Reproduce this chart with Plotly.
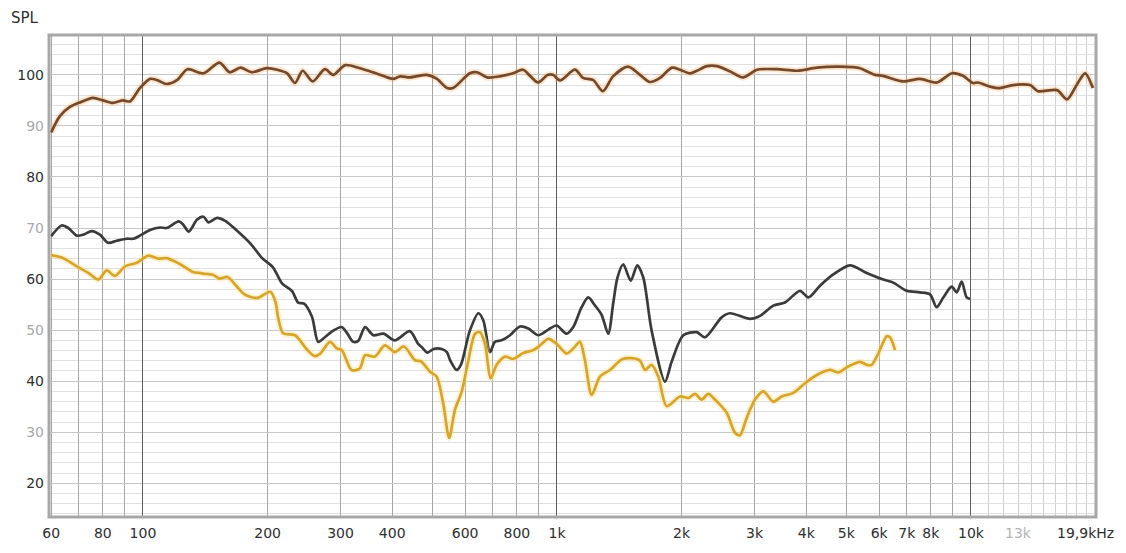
import plotly.graph_objects as go

# Frequency response measurements: frequency in Hz, SPL in dB
brown_freq = [60, 63, 66.6, 70.4, 75.7, 80, 84.6, 89.5, 93, 98.3, 104, 108, 114, 121, 128, 140,
              153, 162, 172, 183, 199, 211, 223, 233, 243, 257, 275, 288, 308, 334, 359, 389,
              402, 418, 442, 485, 513, 543, 561, 616, 641, 678, 728, 783, 828, 861, 900, 951,
              978, 1017, 1105, 1156, 1222, 1291, 1366, 1484, 1587, 1677, 1774, 1896, 1982, 2096,
              2179, 2303, 2435, 2617, 2814, 3042, 3400, 3798, 4246, 4746, 5188, 5394, 5864, 6131,
              6852, 7530, 8278, 8998, 9565, 10110, 10397, 11120, 11750, 12630, 13880, 14510,
              16140, 17060, 18030, 18860, 19710]
brown_spl = [88.7, 91.9, 93.7, 94.6, 95.5, 95.0, 94.5, 95.0, 94.8, 97.4, 99.2, 99.0, 98.2, 99.0, 101.1, 100.3,
             102.4, 100.5, 101.4, 100.5, 101.3, 101.0, 100.3, 98.4, 100.8, 98.7, 101.1, 100.0, 101.9, 101.3, 100.5, 99.5,
             99.2, 99.7, 99.5, 100.0, 99.2, 97.4, 97.4, 100.3, 100.5, 99.5, 99.7, 100.3, 101.0, 99.8, 98.5, 100.0,
             100.0, 98.9, 101.0, 99.4, 99.0, 96.8, 99.7, 101.6, 100.0, 98.6, 99.4, 101.4, 101.0, 100.3,
             100.8, 101.7, 101.7, 100.7, 99.5, 101.0, 101.1, 100.8, 101.4, 101.6, 101.5, 101.3, 100.0, 99.8,
             98.7, 99.2, 98.5, 100.3, 99.8, 98.4, 98.5, 97.7, 97.4, 98.0, 98.0, 96.8,
             97.0, 95.2, 98.1, 100.3, 97.4]

gray_freq = [60, 63.6, 66, 69.2, 71.8, 75.2, 78.7, 82.4, 86.4, 91.3, 94.8, 98.3, 104, 110, 114, 122,
             125, 129, 135, 140, 144, 151, 158, 168, 182, 194, 206, 217, 229, 237, 245, 256,
             265, 275, 288, 302, 310, 322, 331, 344, 360, 381, 406, 441, 462, 471, 487, 503,
             527, 542, 552, 572, 586, 616, 646, 664, 689, 708, 735, 770, 814, 853, 901, 953,
             998, 1055, 1095, 1147, 1190, 1236, 1282, 1330, 1368, 1400, 1446, 1507, 1563, 1616,
             1693, 1824, 1892, 2019, 2175, 2278, 2499, 2617, 2926, 3093, 3331, 3553, 3864, 4046,
             4319, 4650, 5103, 5598, 6141, 6492, 6995, 7530, 7962, 8263, 8573, 8984, 9238, 9495,
             9763, 9945]
gray_spl = [68.4, 70.5, 70.0, 68.5, 68.7, 69.4, 68.7, 67.1, 67.5, 67.9, 67.9, 68.5, 69.6, 70.1, 70.0, 71.3,
            70.7, 69.3, 71.6, 72.2, 71.1, 72.0, 71.4, 69.6, 66.9, 64.1, 62.3, 59.1, 57.7, 55.4, 55.2, 52.6,
            47.7, 48.6, 49.9, 50.6, 49.6, 47.7, 47.9, 50.6, 49.0, 49.3, 48.0, 49.8, 47.3, 46.7, 45.6, 46.3,
            46.3, 45.7, 44.1, 42.2, 43.2, 49.9, 53.3, 51.9, 45.7, 47.7, 48.0, 49.0, 50.7, 50.3, 49.0, 50.1,
            50.9, 49.3, 50.6, 54.5, 56.4, 54.8, 53.0, 49.3, 55.4, 60.3, 62.9, 59.7, 62.7, 60.3,
            49.9, 39.9, 43.8, 49.0, 49.6, 48.6, 52.5, 53.3, 52.2, 52.8, 54.8, 55.4, 57.7, 56.4,
            58.7, 60.9, 62.7, 61.2, 59.9, 59.3, 57.7, 57.4, 57.0, 54.5, 56.4, 58.5, 57.4, 59.5,
            56.4, 56.1]

gold_freq = [60, 64.2, 69.2, 73.8, 78, 81.7, 85.6, 90.5, 96.6, 103, 109, 114, 123, 132, 137, 142,
             148, 153, 160, 168, 176, 189, 203, 209, 212, 218, 233, 249, 260, 268, 283, 294,
             302, 319, 334, 344, 363, 384, 406, 427, 454, 469, 493, 512, 531, 549, 567, 589,
             611, 634, 652, 670, 692, 715, 749, 784, 829, 877, 910, 953, 998, 1055, 1095, 1136,
             1168, 1213, 1270, 1343, 1436, 1514, 1587, 1632, 1693, 1757, 1841, 1982, 2076, 2154,
             2236, 2320, 2407, 2570, 2692, 2767, 2872, 3009, 3151, 3331, 3489, 3723, 3972, 4241,
             4564, 4781, 5011, 5394, 5598, 5756, 5971, 6258, 6373, 6554]
gold_spl = [64.7, 64.1, 62.5, 61.2, 59.9, 61.7, 60.6, 62.5, 63.2, 64.6, 64.0, 64.1, 62.9, 61.4, 61.2, 61.0,
            60.8, 60.1, 60.4, 58.7, 57.0, 56.3, 57.5, 55.5, 52.5, 49.4, 49.0, 46.2, 44.9, 45.4, 47.7, 46.4,
            46.1, 42.2, 42.5, 45.1, 44.8, 47.0, 45.7, 46.8, 44.1, 43.9, 41.9, 40.9, 35.7, 28.9, 34.4, 38.0,
            44.1, 49.3, 49.6, 47.3, 40.6, 43.2, 44.8, 44.4, 45.5, 46.1, 47.0, 48.3, 47.3, 45.4, 46.4, 47.7,
            44.1, 37.3, 40.9, 42.2, 44.3, 44.5, 44.0, 42.2, 43.2, 40.9, 35.1, 37.0, 36.7, 37.5,
            36.4, 37.5, 36.4, 33.8, 29.9, 29.4, 32.8, 36.4, 38.0, 36.0, 37.0, 37.7, 39.6, 41.2,
            42.2, 41.7, 42.7, 43.8, 43.2, 43.2, 45.4, 48.8, 48.6, 46.1]

# Axis ticks
x_grid_vals = [60, 70, 80, 90, 100, 200, 300, 400, 500, 600, 700, 800, 900,
               1000, 2000, 3000, 4000, 5000, 6000, 7000, 8000, 9000, 10000]
x_grid_text = ["60", "", "80", "", "100", "200", "300", "400", "", "600", "", "800", "",
               "1k", "2k", "3k", "4k", "5k", "6k", "7k", "8k", "", "10k"]
x_fine_vals = [11000, 12000, 13000, 14000, 15000, 16000, 17000, 18000, 19000]
x_decade_vals = [100, 1000, 10000]
y_tick_vals = [20, 30, 40, 50, 60, 70, 80, 90, 100]

DARK = "#2e2e2e"
LIGHT = "#a9a9a9"
FONT = "DejaVu Sans"

y_tick_text = [f'<span style="color:{DARK if v % 20 == 0 else LIGHT}">{v}</span>' for v in y_tick_vals]

x_range = [1.773, 4.302]
y_range = [13.4, 107.8]

fig = go.Figure()


def add_curve(freq, spl, color, halo=None):
    if halo:
        fig.add_trace(go.Scatter(x=freq, y=spl, mode="lines", hoverinfo="skip",
                                 line=dict(color=halo, width=6.5, shape="spline", smoothing=0.8),
                                 showlegend=False, xaxis="x", yaxis="y"))
    fig.add_trace(go.Scatter(x=freq, y=spl, mode="lines",
                             line=dict(color=color, width=2.7, shape="spline", smoothing=0.8),
                             showlegend=False, xaxis="x", yaxis="y"))


add_curve(brown_freq, brown_spl, "#74482a", "rgba(250,175,100,0.30)")
add_curve(gray_freq, gray_spl, "#3b3b3b")
add_curve(gold_freq, gold_spl, "#d7a42c", "rgba(250,225,140,0.40)")

fig.update_layout(
    width=1126, height=553,
    margin=dict(l=49, r=30, t=35, b=31),
    paper_bgcolor="white", plot_bgcolor="white",
    font=dict(family=FONT, size=14, color=DARK),
    xaxis=dict(
        type="log", range=x_range, tickmode="array",
        tickvals=x_grid_vals, ticktext=x_grid_text,
        showgrid=True, gridcolor="#a6a6a6", gridwidth=1,
        minor=dict(tickmode="array", tickvals=x_fine_vals, showgrid=True,
                   gridcolor="#cfcfcf", gridwidth=1, ticks=""),
        ticks="", ticklabelstandoff=6, zeroline=False, showline=False,
        tickfont=dict(family=FONT, size=14, color=DARK),
    ),
    xaxis2=dict(
        type="log", range=x_range, overlaying="x", tickmode="array",
        tickvals=x_decade_vals, showticklabels=False, showgrid=True,
        gridcolor="#5e5e5e", gridwidth=1, ticks="", zeroline=False, showline=False,
    ),
    yaxis=dict(
        range=y_range, tickmode="array", tickvals=y_tick_vals, ticktext=y_tick_text,
        showgrid=True, gridcolor="#c6c6c6", gridwidth=1,
        minor=dict(tick0=0, dtick=2, showgrid=True, gridcolor="#e0e0e0", gridwidth=1, ticks=""),
        ticks="", ticklabelstandoff=4, zeroline=False, showline=False,
        tickfont=dict(family=FONT, size=14),
    ),
    shapes=[
        dict(type="rect", xref="paper", yref="paper", x0=0, y0=0, x1=1, y1=1,
             line=dict(color="#a8a8a8", width=3), layer="above"),
    ],
    annotations=[
        dict(text="SPL", xref="paper", yref="paper", x=-0.038, y=1.0, yshift=6,
             xanchor="left", yanchor="bottom", showarrow=False,
             font=dict(family=FONT, size=15, color=DARK)),
        dict(text='<span style="color:#b4b4b4">13k</span>', xref="x", yref="paper",
             x=4.1139, y=0, yshift=-6, xanchor="center", yanchor="top", showarrow=False,
             font=dict(family=FONT, size=14)),
        dict(text="19,9kHz", xref="paper", yref="paper", x=0.9895, y=0, yshift=-6,
             xanchor="center", yanchor="top", showarrow=False,
             font=dict(family=FONT, size=14, color=DARK)),
    ],
)

# an invisible trace keeps the overlay axis active
fig.add_trace(go.Scatter(x=[1000], y=[50], mode="markers", marker=dict(opacity=0),
                         hoverinfo="skip", showlegend=False, xaxis="x2", yaxis="y"))

fig.write_html("out.html")
